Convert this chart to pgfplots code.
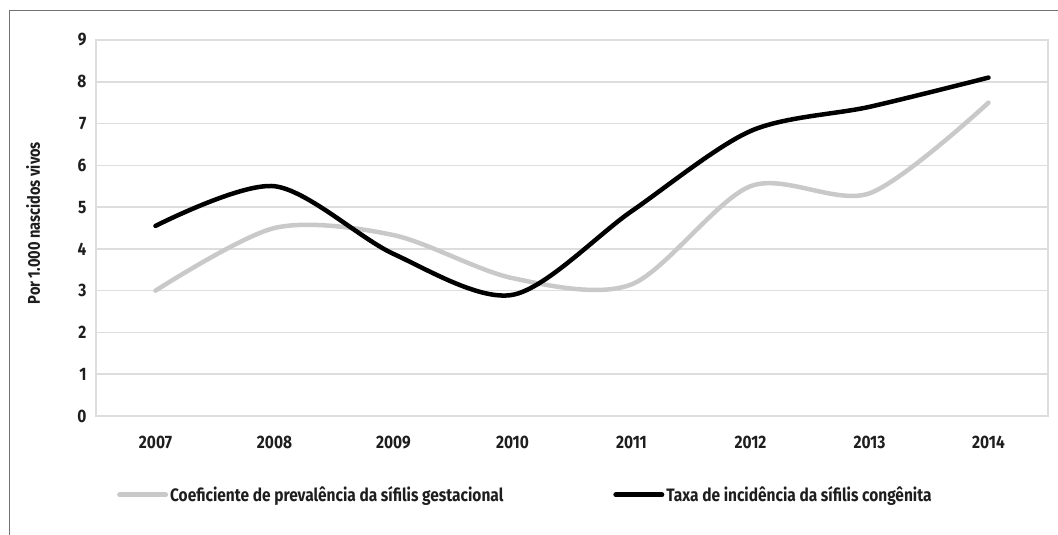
\documentclass[border=0pt]{standalone}
\usepackage{fontspec}
\setmainfont{Fira Sans}[FakeStretch=0.86]
\usepackage{pgfplots}
\pgfplotsset{compat=1.18}
\definecolor{gridc}{HTML}{DDDDDD}
\definecolor{lgray}{HTML}{C9C9C9}
\definecolor{txt}{HTML}{1E1E1E}
\begin{document}
\begin{tikzpicture}[x=1pt,y=1pt]
\path[use as bounding box] (0,0) rectangle (1058,535);
\draw[color=black!55, line width=1pt] (9,0) -- (9,524) -- (1058,524);
\begin{axis}[
  at={(96pt,119pt)}, anchor=south west, scale only axis,
  width=952pt, height=376pt,
  xmin=-0.5, xmax=7.5, ymin=0, ymax=9,
  xtick={0,1,2,3,4,5,6,7},
  xticklabels={2007,2008,2009,2010,2011,2012,2013,2014},
  ytick={0,1,2,3,4,5,6,7,8,9},
  ymajorgrids, grid style={gridc, line width=1.5pt},
  axis line style={gridc, line width=1.5pt},
  major tick length=0pt,
  tick label style={font=\fontsize{18}{21}\selectfont\bfseries, text=txt},
  /pgf/number format/assume math mode=true,
  xticklabel style={anchor=base, yshift=-33pt},
  yticklabel style={xshift=-6pt},
  ylabel={Por 1.000 nascidos vivos},
  ylabel style={font=\fontsize{17}{20}\selectfont\bfseries, text=txt, at={(axis description cs:-0.066,0.513)}, anchor=center},
  legend columns=2,
  legend style={at={(rel axis cs:0.022,-0.21)}, anchor=west, draw=none, fill=none, inner sep=0pt,
    font=\fontsize{18}{21}\selectfont\bfseries, text=txt,
    /tikz/every even column/.append style={column sep=108pt}},
  legend cell align=left,
  legend image code/.code={\draw[#1, line width=5pt, line cap=round] (0pt,0pt) -- (46pt,0pt);},
]
\addplot[lgray, line width=4.5pt, smooth, line cap=round] coordinates {
(0,3.0) (1,4.5) (2,4.33) (3,3.3) (4,3.15) (5,5.5) (6,5.33) (7,7.5)};
\addlegendentry{Coeficiente de prevalência da sífilis gestacional}
\addplot[black, line width=4.5pt, smooth, line cap=round] coordinates {
(0,4.55) (1,5.5) (2,3.88) (3,2.9) (4,4.9) (5,6.82) (6,7.4) (7,8.1)};
\addlegendentry{Taxa de incidência da sífilis congênita}
\end{axis}
\end{tikzpicture}
\end{document}
